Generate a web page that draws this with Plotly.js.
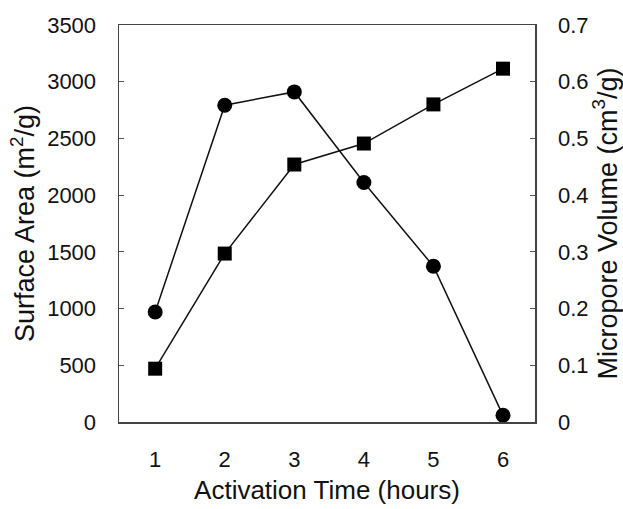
<!DOCTYPE html>
<html><head><meta charset="utf-8">
<script src="https://cdn.plot.ly/plotly-3.0.1.min.js"></script>
<style>html,body{margin:0;padding:0;background:#fff}#c{width:623px;height:509px}</style>
</head><body><div id="c"></div>
<script>
const hours = [1, 2, 3, 4, 5, 6];
const surfaceArea = [970, 2793, 2910, 2111, 1373, 59];
const microporeVolume = [0.094, 0.297, 0.454, 0.491, 0.56, 0.623];
const leftTicks = [0, 500, 1000, 1500, 2000, 2500, 3000, 3500];
const rightTicks = [0, 0.1, 0.2, 0.3, 0.4, 0.5, 0.6, 0.7];
const rightTickText = ['0', '0.1', '0.2', '0.3', '0.4', '0.5', '0.6', '0.7'];

const fam = 'Liberation Sans, Arial, sans-serif';
const ink = '#111';
const traces = [
  {x: hours, y: surfaceArea, type: 'scatter', mode: 'lines+markers', yaxis: 'y',
   line: {color: '#111', width: 1.5}, marker: {symbol: 'circle', size: 15, color: '#000'}},
  {x: hours, y: microporeVolume, type: 'scatter', mode: 'lines+markers', yaxis: 'y2',
   line: {color: '#111', width: 1.5}, marker: {symbol: 'square', size: 14, color: '#000'}}
];
const layout = {
  width: 623, height: 509, showlegend: false,
  margin: {l: 119, r: 88, t: 25, b: 87},
  paper_bgcolor: '#fff', plot_bgcolor: '#fff',
  font: {family: fam, color: ink},
  xaxis: {range: [0.48, 6.46], tickvals: hours, ticks: '', showgrid: false, zeroline: false,
    showline: true, linecolor: '#444', linewidth: 1.5, mirror: true,
    tickfont: {size: 22, family: fam, color: ink}, ticklabelstandoff: 17,
    title: {text: 'Activation Time (hours)', font: {size: 26, family: fam, color: ink}, standoff: 10}},
  yaxis: {range: [0, 3500], tickvals: leftTicks, ticks: 'inside', ticklen: 5, tickcolor: '#555',
    showgrid: false, zeroline: false, showline: true, linecolor: '#444', linewidth: 1.5,
    tickfont: {size: 22, family: fam, color: ink}, ticklabelstandoff: 17,
    title: {text: 'Surface Area (m<sup>2</sup>/g)', font: {size: 27, family: fam, color: ink}, standoff: 4}},
  yaxis2: {range: [0, 0.7], overlaying: 'y', side: 'right', tickvals: rightTicks, ticktext: rightTickText,
    ticks: 'inside', ticklen: 5, tickcolor: '#555',
    showgrid: false, zeroline: false, showline: true, linecolor: '#444', linewidth: 1.5,
    tickfont: {size: 22, family: fam, color: ink}, ticklabelstandoff: 17,
    title: {text: 'Micropore Volume (cm<sup>3</sup>/g)', font: {size: 27, family: fam, color: ink}, standoff: 2}}
};
Plotly.newPlot('c', traces, layout, {displayModeBar: false, staticPlot: true});
</script></body></html>
